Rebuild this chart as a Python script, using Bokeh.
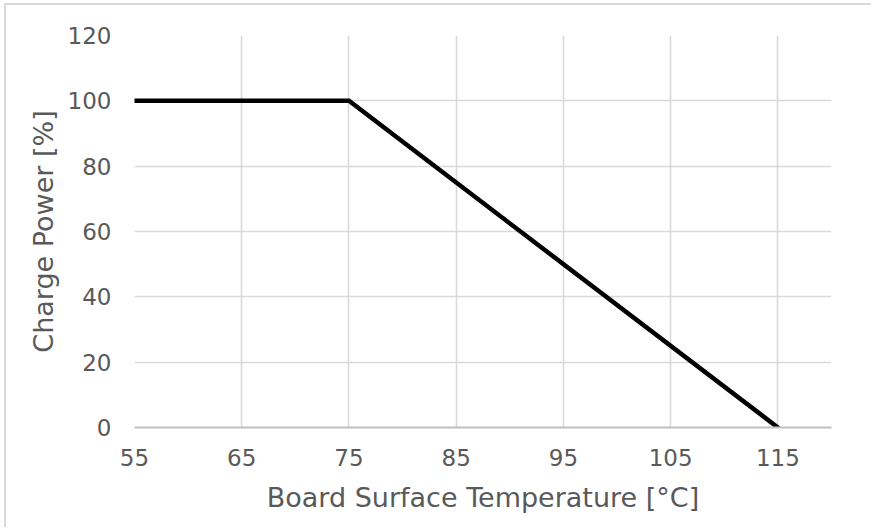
from bokeh.plotting import figure
from bokeh.models import Range1d, FixedTicker
from bokeh.embed import file_html
from bokeh.resources import INLINE

# Data
temperature = [55, 75, 115]
charge_power = [100, 100, 0]
x_ticks = [55, 65, 75, 85, 95, 105, 115]
y_ticks = [0, 20, 40, 60, 80, 100, 120]

W, H = 867, 524
p = figure(width=W, height=H, output_backend="svg", toolbar_location=None,
           x_range=Range1d(55, 120), y_range=Range1d(0, 120),
           min_border_left=128, min_border_right=W - 825,
           min_border_top=30, min_border_bottom=H - 422)
p.styles = {"border-left": "2px solid #d9d9d9", "border-top": "2px solid #d9d9d9",
            "margin-left": "4px", "margin-top": "3px"}
p.outline_line_color = None
p.background_fill_color = "white"
p.border_fill_color = "white"

p.line(temperature, charge_power, line_color="black", line_width=4.5,
       line_join="miter", line_cap="round")

for ax in (p.xaxis[0], p.yaxis[0]):
    ax.major_tick_line_color = None
    ax.minor_tick_line_color = None
    ax.major_label_text_font = "DejaVu Sans"
    ax.major_label_text_font_size = "23px"
    ax.major_label_text_color = "#595959"
    ax.axis_label_text_font = "DejaVu Sans"
    ax.axis_label_text_font_size = "27px"
    ax.axis_label_text_color = "#595959"
    ax.axis_label_text_font_style = "normal"

p.xaxis.ticker = FixedTicker(ticks=x_ticks)
p.yaxis.ticker = FixedTicker(ticks=y_ticks)
p.xaxis.axis_label = "Board Surface Temperature [°C]"
p.yaxis.axis_label = "Charge Power [%]"
p.xaxis.axis_line_color = "#bfbfbf"
p.xaxis.axis_line_width = 2
p.yaxis.axis_line_color = None
p.xaxis.major_label_standoff = 15
p.yaxis.major_label_standoff = 17
p.xaxis.axis_label_standoff = 13
p.yaxis.axis_label_standoff = 6

p.xgrid.grid_line_color = "#d9d9d9"
p.ygrid.grid_line_color = "#d9d9d9"
p.xgrid.grid_line_width = 1.6
p.ygrid.grid_line_width = 1.6

open("out.html", "w").write(file_html(p, INLINE))
